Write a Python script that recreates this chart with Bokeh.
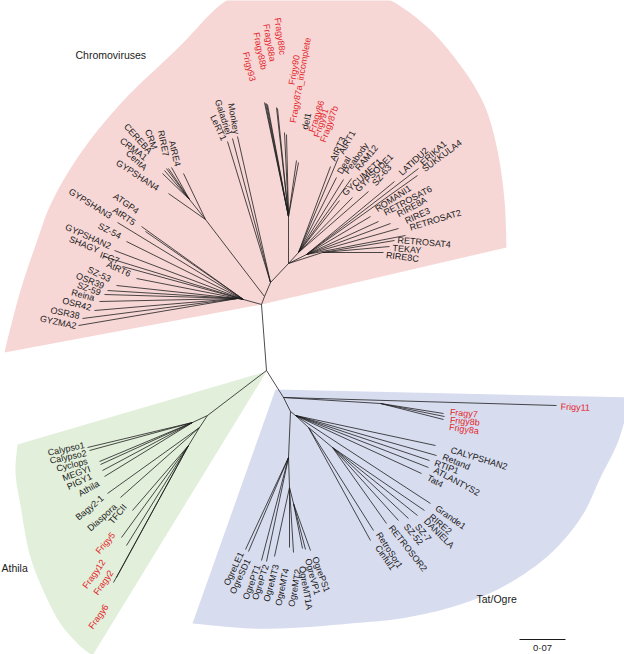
import math
import numpy as np
from bokeh.plotting import figure
from bokeh.models import ColumnDataSource, Range1d
from bokeh.core.properties import value
from bokeh.embed import file_html
from bokeh.resources import INLINE

# ---------------- tree data (positions, pixel units, y down) -------------
node_names = ["N", "R", "L", "L1", "A", "C", "CR", "G2", "B", "F", "B1", "B2", "B3",
              "At1", "At2", "At3", "At4", "T1", "T2", "FG", "Ta", "Tb", "Tc", "O1", "O2", "O3"]
node_parent = [None, "N", "R", "L", "R", "A", "C", "A", "G2", "B", "B", "B", "B",
               "N", "At1", "At1", "At3", "N", "T1", "T1", "T2", "Ta", "Tb", "T2", "O1", "O2"]
node_x = [266, 261, 243, 237, 264, 205, 189, 270, 288, 288, 298, 306, 322,
          207, 192, 199, 188, 283, 290, 380, 295, 308, 332, 288, 289, 293]
node_y = [370, 304, 299, 298, 296, 219, 199, 282, 263, 216, 252, 254, 252,
          415, 422, 427, 445, 397, 411, 403, 415, 427, 447, 457, 487, 503]

tip_names = [
    "GYPSHAN3", "ATGP4", "AtRT5", "SZ-54", "GYPSHAN2", "SHAGY", "IFG7", "AtRT6",
    "SZ-53", "OSR39", "SZ-59", "Reina", "OSR42", "OSR38", "GYZMA2",
    "AtRE4", "GYPSHAN4", "RIRE7", "CRM", "CEREBA", "CRMA1", "CentA",
    "Monkey", "Galadriel", "LeRT1",
    "Frigy93", "Fragy88b", "Fragy88a", "Fragy88c", "Frigy90", "Fragy87a_incomplete",
    "del1", "Fragy86", "Frigy91", "Fragy87b",
    "AtRT3", "AtRT1", "Deal", "Peabody", "RAM12", "GYCUMET1", "GYPSODE1", "SZ-63",
    "LATIDU2", "ERIKA1", "SUKKULA4", "ROMANI1", "RETROSAT6", "RIRE8A", "RIRE3", "RETROSAT2",
    "RETROSAT4", "TEKAY", "RIRE8C",
    "Calypso1", "Calypso2", "Cyclops", "MEGYI", "PIGY1", "Athila", "Bagy2-1", "Diaspora",
    "TFCII", "Frigy5", "Fragy12", "Fragy2", "Fragy6",
    "OgreLE1", "OgreSD1", "OgrePT1", "OgrePT2", "OgreMT3", "OgreMT4", "OgreMT2",
    "OgreMT1A", "OgreVP1", "OgrePS1",
    "Frigy11", "Fragy7", "Frigy8b", "Frigy8a",
    "CALYPSHAN2", "Retand", "RTIP1", "ATLANTYS2", "Tat4", "Grande1",
    "RIRE2", "DANIELA", "SZ-7", "SZ-52", "RETROSOR2", "RetroSor1", "Cinful1"]
tip_parent = [
    "L", "L", "L", "L", "L", "L", "L", "L",
    "L1", "L1", "L1", "L1", "L1", "L1", "L1",
    "C", "C", "CR", "CR", "CR", "CR", "CR",
    "G2", "G2", "G2",
    "F", "F", "F", "F", "F", "F", "F", "F", "F", "F",
    "B1", "B1", "B1", "B1", "B1", "B1", "B1", "B1",
    "B2", "B2", "B2", "B2", "B2", "B2", "B2", "B2",
    "B3", "B3", "B3",
    "At2", "At2", "At2", "At2", "At2", "At2", "At3", "At3",
    "At4", "At4", "At4", "At4", "At4",
    "O1", "O1", "O1", "O1", "O2", "O2", "O2", "O3", "O3", "O3",
    "T1", "FG", "FG", "FG",
    "Ta", "Ta", "Ta", "Ta", "Ta", "Ta",
    "Tc", "Tc", "Tc", "Tc", "Tc", "Tb", "Tb"]
tip_x = [117, 141, 145, 126, 114, 103, 122, 136,
         116, 107, 104, 99, 94, 82, 78,
         183, 168, 171, 168, 166, 164, 162,
         237, 232, 227,
         264, 265, 266, 267, 276, 277, 284, 286, 296, 298,
         330, 338, 336, 343, 351, 339, 352, 368,
         394, 418, 417, 370, 378, 390, 398, 405,
         394, 389, 383,
         87, 89, 99, 100, 102, 104, 107, 120,
         132, 121, 126, 116, 113,
         245, 248, 261, 266, 274, 289, 293, 302, 305, 310,
         556, 443, 444, 443,
         435, 436, 429, 428, 421, 430,
         424, 417, 408, 398, 386, 373, 370]
tip_y = [222, 226, 231, 241, 250, 256, 266, 278,
         285, 290, 294, 301, 310, 318, 325,
         173, 193, 167, 168, 168, 170, 173,
         136, 138, 141,
         102, 103, 103, 104, 107, 108, 132, 134, 160, 162,
         166, 157, 177, 179, 178, 200, 197, 191,
         181, 168, 175, 216, 221, 223, 228, 235,
         240, 246, 252,
         447, 450, 461, 464, 470, 476, 493, 497,
         510, 537, 545, 577, 582,
         549, 551, 560, 561, 556, 547, 552, 548, 549, 550,
         405, 413, 416, 419,
         445, 455, 460, 467, 473, 503,
         510, 515, 518, 520, 523, 530, 540]
label_x = [110.6, 137.4, 134, 120, 110, 98.3, 118.5, 129.8,
           109.8, 103.3, 100, 93.8, 90.5, 79, 75.8,
           177.4, 157.5, 165.6, 154.1, 150, 145.6, 145.2,
           235.9, 228.3, 223.5,
           252.3, 263.6, 272.3, 282.2, 291.1, 292.4, 304.4, 311, 316, 322.2,
           332, 340.7, 338.9, 345.4, 356.4, 343, 356.2, 373.4,
           399.8, 421, 422.7, 375.5, 383.8, 397.1, 404.9, 409.3,
           397.1, 392.1, 385.5,
           84, 86, 87, 89.5, 91, 98, 102, 115,
           124.5, 113, 103, 111, 106,
           240.9, 247.6, 257.5, 265.7, 275.7, 285.6, 297.5, 301.4, 307.3, 314.2,
           560.2, 449.4, 449.4, 448.6,
           450.3, 442.4, 434.2, 433.8, 427.1, 435.6,
           429.6, 424.9, 416.4, 405.1, 390.2, 377.8, 376.7]
label_y = [216.2, 211.3, 223, 236, 246, 250, 260.8, 274,
           279, 285.8, 292.5, 297.7, 307.4, 315.6, 325.6,
           165.6, 188.2, 155.8, 148.5, 152, 158.1, 168.4,
           133.7, 133.7, 139.4,
           80.6, 69.1, 60.9, 54.4, 84.2, 122.2, 129, 131.6, 136.6, 141.5,
           160, 152.9, 172.8, 172.4, 168.8, 193.4, 189.8, 184.1,
           173.4, 163.4, 169.4, 209.2, 212.7, 214, 220.9, 227.4,
           239.5, 247.5, 254.5,
           444.5, 452.5, 460.5, 468, 475.5, 482.5, 496.5, 505,
           505, 533, 560, 570.6, 604.6,
           551.9, 558.9, 564.5, 564.4, 564.2, 567.9, 568.8, 565.8, 558.2, 556.5,
           406.2, 411.5, 419.5, 426.5,
           449.3, 455.9, 462.2, 469, 476.7, 506.7,
           515.1, 519.2, 524.6, 524.6, 525.8, 532.5, 545.6]
label_deg = [-32, -35, -35, -27, -24, -22, -20, -25,
             -25, -22, -20, -15, -15, -12, -12,
             -76, -33, -78, -70, -48, -37, -43,
             -80, -72, -65,
             -76, -78, -80, -82, 80, 80, 78, 72, 72, 70,
             65, 62, 60, 55, 50, 42, 45, 50,
             43, 42, 37, 33, 28, 28, 25, 17,
             -5, -5, -7,
             12, 12, 14, 20, 25, 30, 40, 42,
             50, 50, 55, 55, 55,
             65, 65, 70, 72, 75, 78, 80, -80, -75, -70,
             -2, -5, -5, -8,
             -17, -22, -20, -28, -28, -35,
             -40, -45, -50, -50, -52, -57, -55]
highlighted = ["Frigy93", "Fragy88b", "Fragy88a", "Fragy88c", "Frigy90", "Fragy87a_incomplete",
               "Fragy86", "Frigy91", "Fragy87b", "Frigy5", "Fragy12", "Fragy2", "Fragy6",
               "Frigy11", "Fragy7", "Frigy8b", "Frigy8a"]

clade_names = ["Chromoviruses", "Athila", "Tat/Ogre"]
scale_value = 0.07

# ---------------- helpers -------------
def smooth(pts, n=10):
    out = []
    m = len(pts)
    for i in range(m - 1):
        p0 = np.array(pts[max(i - 1, 0)], float)
        p1 = np.array(pts[i], float)
        p2 = np.array(pts[i + 1], float)
        p3 = np.array(pts[min(i + 2, m - 1)], float)
        for t in np.linspace(0, 1, n, endpoint=False):
            t2, t3 = t * t, t * t * t
            pt = 0.5 * ((2 * p1) + (-p0 + p2) * t + (2 * p0 - 5 * p1 + 4 * p2 - p3) * t2
                        + (-p0 + 3 * p1 - 3 * p2 + p3) * t3)
            out.append(pt)
    out.append(np.array(pts[-1], float))
    return out

def region(apex, arc):
    pts = [apex] + smooth(arc) + [apex]
    return [p[0] for p in pts], [-p[1] for p in pts]

W, H = 624, 654
p = figure(width=W, height=H, x_range=Range1d(0, W), y_range=Range1d(-H, 0),
           output_backend="svg", toolbar_location=None, min_border=0,
           x_axis_location=None, y_axis_location=None)
p.grid.visible = False
p.outline_line_color = None
p.background_fill_color = "white"
p.border_fill_color = "white"

# clade shading
pink_arc = [(506, 247), (504, 200), (497, 150), (484, 105), (460, 65), (425, 25), (380, -5),
            (320, -20), (262, -12), (223, 2), (177, 48), (123, 100), (82, 150), (52, 200),
            (35, 245), (20, 290), (8, 335), (4, 352)]
green_arc = [(17, 444), (15, 472), (20, 505), (31, 560), (55, 615), (76, 642), (92, 655)]
blue_arc = [(630, 397), (618, 440), (600, 477), (583, 513), (560, 543), (533, 567), (495, 590),
            (450, 607), (400, 618), (350, 623), (300, 627), (250, 628), (192, 623)]
for apex, arc, col in [((261, 304), pink_arc, "#F6D7D6"),
                       ((266, 371), green_arc, "#E2EFDA"),
                       ((275, 389), blue_arc, "#D8DCEF")]:
    xs, ys = region(apex, arc)
    p.patch(xs, ys, fill_color=col, line_color=None)

# branches
pos = {n: (x, y) for n, x, y in zip(node_names, node_x, node_y)}
x0, y0, x1, y1 = [], [], [], []
for n, par in zip(node_names, node_parent):
    if par is None:
        continue
    x0.append(pos[par][0]); y0.append(-pos[par][1])
    x1.append(pos[n][0]); y1.append(-pos[n][1])
for par, tx, ty in zip(tip_parent, tip_x, tip_y):
    x0.append(pos[par][0]); y0.append(-pos[par][1])
    x1.append(tx); y1.append(-ty)
p.segment(x0=x0, y0=y0, x1=x1, y1=y1, line_color="#1e1e1e", line_width=0.8)

# labels
groups = {"left": dict(x=[], y=[], t=[], a=[], c=[]), "right": dict(x=[], y=[], t=[], a=[], c=[])}
for name, par, lx, ly, deg in zip(tip_names, tip_parent, label_x, label_y, label_deg):
    a = math.radians(deg)
    ox, oy = lx - pos[par][0], -(ly - pos[par][1])
    side = "left" if (math.cos(a) * ox + math.sin(a) * oy) > 0 else "right"
    g = groups[side]
    g["x"].append(lx); g["y"].append(-ly); g["t"].append(name); g["a"].append(a)
    g["c"].append("#E3262B" if name in highlighted else "#1a1a1a")
for side, g in groups.items():
    src = ColumnDataSource(dict(x=g["x"], y=g["y"], text=g["t"], angle=g["a"], color=g["c"]))
    p.text(x="x", y="y", text="text", angle="angle", text_color="color", source=src,
           text_align=side, text_baseline="middle", text_font=value("Liberation Sans"),
           text_font_size="9px")

# clade names
p.text(x=[75, 1, 476], y=[-54, -567, -598], text=clade_names, text_align="left",
       text_baseline="middle", text_font=value("Liberation Sans"), text_font_size="10.5px",
       text_color="#1a1a1a")

# scale bar
px_per_unit = 46 / 0.07
sx0 = 519
p.segment(x0=[sx0], y0=[-639], x1=[sx0 + scale_value * px_per_unit], y1=[-639],
          line_color="#1a1a1a", line_width=1)
p.text(x=[sx0 + scale_value * px_per_unit / 2], y=[-647], text=["0·07"], text_align="center",
       text_baseline="middle", text_font=value("Liberation Sans"), text_font_size="9.5px",
       text_color="#1a1a1a")

open("out.html", "w").write(file_html(p, INLINE))
